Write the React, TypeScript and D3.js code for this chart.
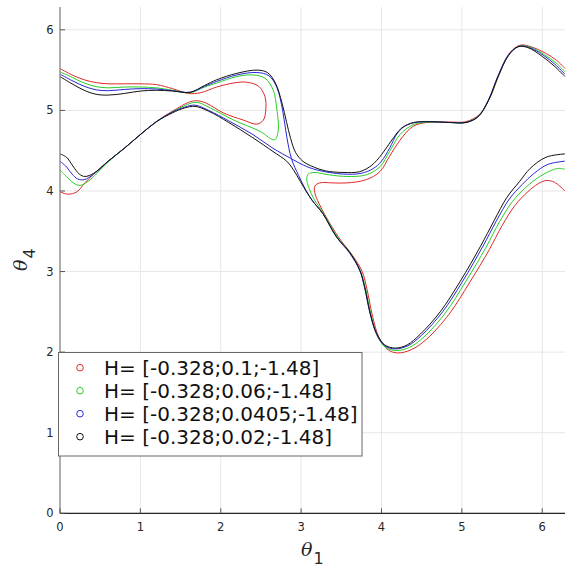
import React from 'react';
import * as d3 from 'd3';

type P = [number, number];

const TAU = 2 * Math.PI;
const xTicks = [0, 1, 2, 3, 4, 5, 6];
const yTicks = [0, 1, 2, 3, 4, 5, 6];
const legendLabels = [
  'H= [-0.328;0.1;-1.48]',
  'H= [-0.328;0.06;-1.48]',
  'H= [-0.328;0.0405;-1.48]',
  'H= [-0.328;0.02;-1.48]',
];
const seriesColors = ['#e02828', '#28d028', '#2828d8', '#111111'];

// H2 = 0.1 (red)
const redA: P[] = [
  [0, 5.52], [0.15, 5.44], [0.3, 5.38], [0.45, 5.345], [0.6, 5.33], [0.8, 5.33], [1.0, 5.33],
  [1.2, 5.32], [1.4, 5.27], [1.6, 5.21], [1.75, 5.22], [1.95, 5.29], [2.16, 5.34], [2.32, 5.35],
  [2.47, 5.30], [2.55, 5.17], [2.56, 5.0], [2.53, 4.88], [2.45, 4.83], [2.28, 4.88], [2.03, 4.97],
  [1.82, 5.09], [1.70, 5.12], [1.6, 5.10], [1.45, 5.02], [1.24, 4.89], [1.0, 4.70], [0.8, 4.53],
  [0.6, 4.37], [0.41, 4.2], [0.31, 4.10], [0.21, 3.99], [0.10, 3.96], [0, 3.99],
];
const redB: P[] = [
  [6.283, 4.0], [6.15, 4.11], [6.05, 4.13], [5.95, 4.09], [5.82, 3.99], [5.66, 3.82], [5.5, 3.57],
  [5.34, 3.27], [5.1, 2.87], [4.84, 2.47], [4.56, 2.16], [4.37, 2.03], [4.2, 1.99], [4.08, 2.03],
  [3.97, 2.18], [3.89, 2.44], [3.82, 2.78], [3.76, 3.0], [3.64, 3.2], [3.47, 3.42], [3.31, 3.68],
  [3.22, 3.85], [3.17, 3.98], [3.17, 4.06], [3.23, 4.10], [3.4, 4.10], [3.57, 4.10], [3.81, 4.14],
  [3.98, 4.24], [4.10, 4.43], [4.23, 4.63], [4.39, 4.80], [4.56, 4.85], [4.85, 4.855], [5.05, 4.86],
  [5.22, 4.95], [5.35, 5.16], [5.47, 5.46], [5.6, 5.72], [5.73, 5.81], [5.86, 5.79], [6.04, 5.71],
  [6.18, 5.62], [6.283, 5.52],
];

// H2 = 0.06 (green)
const greenA: P[] = [
  [0, 5.48], [0.15, 5.41], [0.3, 5.34], [0.45, 5.295], [0.6, 5.28], [0.8, 5.29], [1.0, 5.29],
  [1.2, 5.28], [1.4, 5.25], [1.62, 5.22], [1.8, 5.29], [1.95, 5.34], [2.2, 5.42], [2.4, 5.44],
  [2.55, 5.40], [2.65, 5.26], [2.70, 5.0], [2.715, 4.75], [2.67, 4.635], [2.49, 4.74], [2.16, 4.88],
  [1.87, 5.03], [1.70, 5.10], [1.55, 5.06], [1.4, 4.98], [1.2, 4.86], [1.0, 4.70], [0.8, 4.53],
  [0.6, 4.36], [0.46, 4.22], [0.35, 4.12], [0.25, 4.07], [0.165, 4.10], [0.08, 4.18], [0, 4.26],
];
const greenB: P[] = [
  [6.283, 4.27], [6.2, 4.28], [6.1, 4.25], [5.94, 4.16], [5.79, 4.04], [5.63, 3.87], [5.47, 3.62],
  [5.3, 3.30], [5.05, 2.88], [4.79, 2.48], [4.53, 2.19], [4.35, 2.06], [4.19, 2.02], [4.05, 2.06],
  [3.95, 2.2], [3.87, 2.46], [3.80, 2.80], [3.74, 3.0], [3.62, 3.22], [3.45, 3.43], [3.28, 3.72],
  [3.16, 3.90], [3.10, 4.03], [3.07, 4.15], [3.09, 4.21], [3.16, 4.23], [3.35, 4.20], [3.57, 4.18],
  [3.81, 4.20], [3.98, 4.30], [4.10, 4.49], [4.23, 4.70], [4.39, 4.82], [4.56, 4.855], [4.85, 4.85],
  [5.05, 4.85], [5.21, 4.93], [5.34, 5.14], [5.46, 5.44], [5.59, 5.70], [5.72, 5.80], [5.85, 5.785],
  [6.03, 5.69], [6.17, 5.59], [6.283, 5.48],
];

// H2 = 0.0405 (blue, separatrix)
const blueA: P[] = [
  [0, 5.45], [0.15, 5.37], [0.3, 5.30], [0.45, 5.255], [0.6, 5.245], [0.8, 5.26], [1.0, 5.27],
  [1.2, 5.265], [1.4, 5.245], [1.62, 5.225], [1.8, 5.30], [1.95, 5.36], [2.2, 5.44], [2.45, 5.47],
  [2.6, 5.43], [2.7, 5.28], [2.77, 5.0], [2.82, 4.68], [2.88, 4.40], [2.97, 4.19], [3.06, 4.01],
  [3.14, 3.88], [3.27, 3.72], [3.44, 3.43], [3.61, 3.22], [3.73, 3.01], [3.79, 2.80], [3.86, 2.47],
  [3.94, 2.22], [4.04, 2.08], [4.17, 2.04], [4.33, 2.08], [4.5, 2.21], [4.76, 2.50], [5.01, 2.88],
  [5.26, 3.31], [5.43, 3.63], [5.59, 3.90], [5.75, 4.08], [5.9, 4.22], [6.07, 4.33], [6.283, 4.37],
];
const blueB: P[] = [
  [0, 4.37], [0.08, 4.30], [0.15, 4.21], [0.22, 4.15], [0.3, 4.14], [0.42, 4.21], [0.6, 4.37],
  [0.8, 4.53], [1.0, 4.70], [1.2, 4.86], [1.4, 4.98], [1.55, 5.04], [1.68, 5.065], [1.85, 5.0],
  [2.1, 4.87], [2.4, 4.70], [2.65, 4.53], [2.88, 4.40], [3.03, 4.32], [3.2, 4.26], [3.52, 4.21],
  [3.75, 4.22], [3.9, 4.28], [4.0, 4.37], [4.1, 4.53], [4.2, 4.72], [4.3, 4.81], [4.42, 4.85],
  [4.6, 4.86], [4.85, 4.85], [5.05, 4.85], [5.2, 4.92], [5.33, 5.13], [5.45, 5.43], [5.58, 5.69],
  [5.71, 5.795], [5.84, 5.78], [6.02, 5.68], [6.16, 5.57], [6.283, 5.45],
];

// H2 = 0.02 (black)
const blackA: P[] = [
  [0, 5.42], [0.15, 5.33], [0.3, 5.25], [0.45, 5.20], [0.6, 5.19], [0.8, 5.21], [1.0, 5.24],
  [1.2, 5.25], [1.4, 5.24], [1.62, 5.225], [1.8, 5.31], [1.95, 5.38], [2.2, 5.46], [2.45, 5.50],
  [2.58, 5.47], [2.68, 5.34], [2.76, 5.10], [2.82, 4.85], [2.87, 4.65], [2.93, 4.48], [3.02, 4.37],
  [3.15, 4.30], [3.3, 4.25], [3.52, 4.23], [3.73, 4.24], [3.88, 4.32], [4.0, 4.45], [4.12, 4.62],
  [4.25, 4.78], [4.4, 4.85], [4.6, 4.86], [4.85, 4.85], [5.05, 4.85], [5.2, 4.92], [5.33, 5.12],
  [5.45, 5.42], [5.58, 5.68], [5.7, 5.79], [5.82, 5.78], [6.0, 5.67], [6.15, 5.55], [6.283, 5.42],
];
const blackB: P[] = [
  [0, 4.46], [0.08, 4.42], [0.16, 4.31], [0.24, 4.21], [0.31, 4.18], [0.42, 4.22], [0.6, 4.37],
  [0.8, 4.53], [1.0, 4.70], [1.2, 4.86], [1.4, 4.97], [1.55, 5.03], [1.68, 5.05], [1.85, 4.99],
  [2.1, 4.85], [2.4, 4.66], [2.65, 4.49], [2.82, 4.37], [2.9, 4.27], [2.99, 4.12], [3.06, 4.0],
  [3.14, 3.88], [3.27, 3.72], [3.44, 3.43], [3.61, 3.23], [3.73, 3.02], [3.79, 2.81], [3.86, 2.48],
  [3.94, 2.23], [4.04, 2.09], [4.17, 2.05], [4.32, 2.09], [4.48, 2.22], [4.73, 2.50], [4.98, 2.88],
  [5.23, 3.31], [5.4, 3.63], [5.56, 3.92], [5.72, 4.12], [5.85, 4.28], [6.05, 4.42], [6.283, 4.46],
];

const series: P[][][] = [
  [redA, redB],
  [greenA, greenB],
  [blueA, blueB],
  [blackA, blackB],
];

const W = 576;
const H = 567;
const left = 60;
const right = 565;
const top = 7;
const bottom = 513.3;

export default function App() {
  const x = d3.scaleLinear().domain([0, TAU]).range([left, right]);
  const y = d3.scaleLinear().domain([0, TAU]).range([bottom, top]);
  const line = d3
    .line<P>()
    .x((d) => x(d[0]))
    .y((d) => y(d[1]))
    .curve(d3.curveCatmullRom.alpha(0.5));

  const legX = 58.5;
  const legY = 352.5;
  const legW = 303.5;
  const legH = 103.5;

  return (
    <svg
      width={W}
      height={H}
      style={{ position: 'absolute', left: 0, top: 0, background: '#fff' }}
      fontFamily="'DejaVu Sans', sans-serif"
    >
      <rect x={0} y={0} width={W} height={H} fill="#fff" />
      {xTicks.map((t) => (
        <line key={'gx' + t} x1={x(t)} x2={x(t)} y1={top} y2={bottom} stroke="#e6e6e6" strokeWidth={1} />
      ))}
      {yTicks.map((t) => (
        <line key={'gy' + t} x1={left} x2={right} y1={y(t)} y2={y(t)} stroke="#e6e6e6" strokeWidth={1} />
      ))}
      {series.map((segs, i) =>
        segs.map((seg, j) => (
          <path key={`s${i}-${j}`} d={line(seg) || ''} fill="none" stroke={seriesColors[i]} strokeWidth={1} />
        ))
      )}
      <line x1={left} x2={left} y1={top} y2={bottom} stroke="#808080" strokeWidth={1.2} />
      <line x1={left} x2={right} y1={bottom} y2={bottom} stroke="#262626" strokeWidth={1.2} />
      {xTicks.map((t) => (
        <g key={'tx' + t}>
          <line x1={x(t)} x2={x(t)} y1={bottom} y2={bottom - 5} stroke="#555" strokeWidth={1} />
          <text x={x(t)} y={531} fontSize={11.5} textAnchor="middle" fill="#262626">
            {t}
          </text>
        </g>
      ))}
      {yTicks.map((t) => (
        <g key={'ty' + t}>
          <line x1={left} x2={left + 5} y1={y(t)} y2={y(t)} stroke="#555" strokeWidth={1} />
          <text x={53.5} y={y(t) + 4} fontSize={11.5} textAnchor="end" fill="#262626">
            {t}
          </text>
        </g>
      ))}
      <text x={301} y={556} fontSize={19} fill="#262626">
        <tspan fontFamily="'DejaVu Serif', serif" fontStyle="italic">θ</tspan>
        <tspan fontSize={16} dy={7.5} dx={1}>1</tspan>
      </text>
      <text transform="translate(27,271) rotate(-90)" fontSize={19} fill="#262626">
        <tspan fontFamily="'DejaVu Serif', serif" fontStyle="italic">θ</tspan>
        <tspan fontSize={16} dy={8} dx={1}>4</tspan>
      </text>
      <rect x={legX} y={legY} width={legW} height={legH} fill="#fff" stroke="#666" strokeWidth={1} />
      {legendLabels.map((lab, i) => {
        const cy = 367.7 + i * 23;
        return (
          <g key={'lg' + i}>
            <circle cx={80} cy={cy} r={3.3} fill="none" stroke={seriesColors[i]} strokeWidth={1} />
            <text x={104} y={cy + 7} fontSize={20} fill="#111">
              {lab}
            </text>
          </g>
        );
      })}
    </svg>
  );
}
